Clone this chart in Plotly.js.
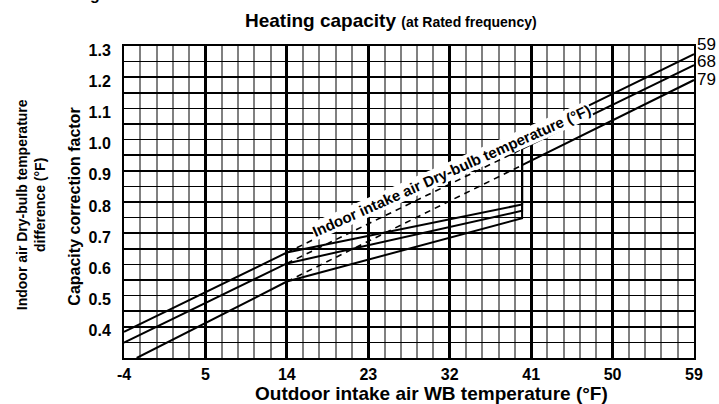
<!DOCTYPE html>
<html>
<head>
<meta charset="utf-8">
<script src="https://cdn.plot.ly/plotly-3.0.1.min.js"></script>
<style>html,body{margin:0;padding:0;background:#fff;}#chart{width:719px;height:404px;}</style>
</head>
<body>
<div id="chart"></div>
<script>
// Outdoor intake air WB temperature (°F) and capacity correction factor per indoor DB temperature
const temps59 = [-4, 14, 40, 40, 59];
const factor59 = [0.384, 0.638, 0.792, 1.005, 1.274];
const temps68 = [-4, 14, 40, 40, 59];
const factor68 = [0.349, 0.603, 0.772, 0.970, 1.239];
const temps79 = [-2.6, 14, 40, 40, 59];
const factor79 = [0.300, 0.545, 0.748, 0.918, 1.191];
// dashed reference segments (straight-line continuation)
const dashTemps = [14, 40];
const dash59 = [0.638, 1.005];
const dash68 = [0.603, 0.970];
const dash79 = [0.545, 0.918];
const seriesLabels = ["59", "68", "79"];
const xTickVals = [-4, 5, 14, 23, 32, 41, 50, 59];
const yTickVals = [0.4, 0.5, 0.6, 0.7, 0.8, 0.9, 1.0, 1.1, 1.2, 1.3];
const yTickText = ["0.4", "0.5", "0.6", "0.7", "0.8", "0.9", "1.0", "1.1", "1.2", "1.3"];

const FONT = "Arial, 'Liberation Sans', sans-serif";
const solid = {color: "#000", width: 2};
const dashed = {color: "#000", width: 1.6, dash: "6px,5px"};

const traces = [
  {x: temps59, y: factor59, mode: "lines", line: solid},
  {x: temps68, y: factor68, mode: "lines", line: solid},
  {x: temps79, y: factor79, mode: "lines", line: solid},
  {x: dashTemps, y: dash59, mode: "lines", line: dashed},
  {x: dashTemps, y: dash68, mode: "lines", line: dashed},
  {x: dashTemps, y: dash79, mode: "lines", line: dashed}
];

// label positions (paper fraction) for the series names at the right
const labelPaperY = [1.006, 0.949, 0.894];

const annotations = [
  {xref: "paper", yref: "paper", x: 0.468, y: 1.083, xanchor: "center", yanchor: "middle", showarrow: false,
   text: "<b>Heating capacity</b> <span style='font-size:14px'><b>(at Rated frequency)</b></span>",
   font: {family: FONT, size: 19, color: "#000"}},
  {xref: "paper", yref: "paper", x: -0.086, y: 0.485, xanchor: "center", yanchor: "middle", showarrow: false,
   textangle: -90, text: "<b>Capacity correction factor</b>", font: {family: FONT, size: 16, color: "#000"}},
  {xref: "paper", yref: "paper", x: -0.163, y: 0.49, xanchor: "center", yanchor: "middle", showarrow: false,
   textangle: -90, text: "<b>Indoor air Dry-bulb temperature<br>difference (°F)</b>", font: {family: FONT, size: 14, color: "#000"}},
  {xref: "paper", yref: "paper", x: 0.539, y: -0.113, xanchor: "center", yanchor: "middle", showarrow: false,
   text: "<b>Outdoor intake air WB temperature (°F)</b>", font: {family: FONT, size: 19, color: "#000"}},
  {xref: "x", yref: "y", x: 32.2, y: 0.902, xanchor: "center", yanchor: "middle", showarrow: false,
   textangle: -24, bgcolor: "#fff", borderpad: 0,
   text: "<b>Indoor intake air Dry-bulb temperature (°F)</b>", font: {family: FONT, size: 15, color: "#000"}},
  {xref: "paper", yref: "paper", x: 0.0, y: 1.13, xanchor: "center", yanchor: "bottom", xshift: -29, showarrow: false,
   text: "<b>g</b>", font: {family: FONT, size: 16, color: "#000"}}
];
seriesLabels.forEach((t, i) => {
  annotations.push({xref: "paper", yref: "paper", x: 1, y: labelPaperY[i], xanchor: "left", yanchor: "middle", xshift: 1,
    showarrow: false, text: t, font: {family: FONT, size: 17, color: "#000"}});
});

const layout = {
  width: 719, height: 404,
  margin: {l: 124, r: 25, t: 46, b: 46, pad: 0},
  paper_bgcolor: "#fff", plot_bgcolor: "#fff",
  showlegend: false,
  xaxis: {
    range: [-4, 59], tickmode: "array", tickvals: xTickVals, ticktext: xTickVals.map(String),
    showgrid: true, gridcolor: "#000", gridwidth: 3,
    minor: {tick0: -4, dtick: 1.8, showgrid: true, gridcolor: "#808080", gridwidth: 2, ticks: ""},
    showline: true, linecolor: "#000", linewidth: 2, mirror: true, zeroline: false,
    ticks: "", ticklabelstandoff: 1,
    tickfont: {family: FONT, size: 16, color: "#000", weight: "bold"}
  },
  yaxis: {
    range: [0.3, 1.3], tickmode: "array", tickvals: yTickVals, ticktext: yTickText,
    showgrid: true, gridcolor: "#000", gridwidth: 1.5,
    minor: {tick0: 0.3, dtick: 0.05, showgrid: true, gridcolor: "#000", gridwidth: 1.5, ticks: ""},
    showline: true, linecolor: "#000", linewidth: 2, mirror: true, zeroline: false,
    ticks: "", ticklabelstandoff: 8, ticklabelshift: 4,
    tickfont: {family: FONT, size: 16, color: "#000", weight: "bold"}
  },
  annotations: annotations
};

Plotly.newPlot("chart", traces, layout, {displayModeBar: false, staticPlot: true});
</script>
</body>
</html>
